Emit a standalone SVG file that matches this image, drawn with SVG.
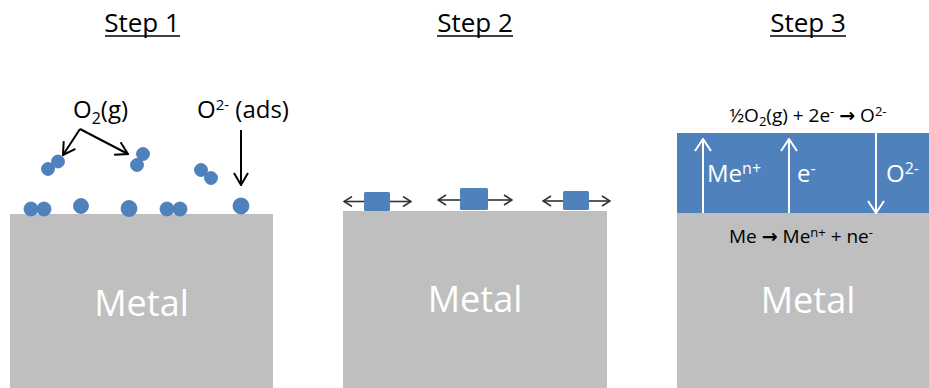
<svg xmlns="http://www.w3.org/2000/svg" width="929" height="388" viewBox="0 0 929 388">
  <style>
    .metal { fill: #bfbfbf; }
    .oxide { fill: #4f81bd; }
    .atom { fill: #4f81bd; stroke: #4677b3; stroke-width: 0.8; }
    .title { font-family: "Open Sans", "Liberation Sans", sans-serif; font-size: 26px; fill: #000; text-anchor: middle; }
    .uline { stroke: #000; stroke-width: 1.6; }
    .label { font-family: "Open Sans", "Liberation Sans", sans-serif; font-size: 24px; fill: #000; }
    .big { font-family: "Open Sans", "Liberation Sans", sans-serif; font-size: 36px; fill: #fff; text-anchor: middle; }
    .eq { font-family: "Open Sans", "Liberation Sans", sans-serif; font-size: 19px; fill: #000; text-anchor: middle; }
    .arrowglyph { font-family: "DejaVu Sans", sans-serif; font-weight: bold; }
    .inlayer { font-family: "Open Sans", "Liberation Sans", sans-serif; font-size: 24px; fill: #fff; }
    .blk { stroke: #000; stroke-width: 2; fill: none; }
    .grey { stroke: #333; stroke-width: 1.6; fill: none; }
    .wht { stroke: #fff; stroke-width: 2; fill: none; }
  </style>
  <defs>
    <marker id="headBlack" viewBox="0 0 14 16" refX="13" refY="8" markerWidth="14" markerHeight="16" markerUnits="userSpaceOnUse" orient="auto">
      <path d="M1,1 L13,8 L1,15" stroke="#000" stroke-width="2" fill="none"/>
    </marker>
    <marker id="headGrey" viewBox="0 0 10 12" refX="9" refY="6" markerWidth="10" markerHeight="12" markerUnits="userSpaceOnUse" orient="auto">
      <path d="M1,1 L9,6 L1,11" stroke="#333" stroke-width="1.6" fill="none"/>
    </marker>
    <marker id="headWhite" viewBox="0 0 14 18" refX="13" refY="9" markerWidth="14" markerHeight="18" markerUnits="userSpaceOnUse" orient="auto">
      <path d="M1,1 L13,9 L1,17" stroke="#fff" stroke-width="2" fill="none"/>
    </marker>
  </defs>

  <!-- step headings -->
  <g id="title-step1">
    <text class="title" x="142" y="32">Step 1</text>
    <line class="uline" x1="105" y1="36" x2="180" y2="36"/>
  </g>
  <g id="title-step2">
    <text class="title" x="475" y="32">Step 2</text>
    <line class="uline" x1="437" y1="36" x2="513" y2="36"/>
  </g>
  <g id="title-step3">
    <text class="title" x="808" y="32">Step 3</text>
    <line class="uline" x1="770" y1="36" x2="846" y2="36"/>
  </g>

  <!-- step 1: adsorption of oxygen -->
  <g id="metal1">
    <rect class="metal" x="10" y="214" width="263" height="176"/>
    <text class="big" x="141.5" y="316">Metal</text>
  </g>
  <g id="o2-gas-label">
    <text class="label" x="73" y="118">O<tspan font-size="16" dy="6">2</tspan><tspan dy="-6">(g)</tspan></text>
  </g>
  <g id="o2-ads-label">
    <text class="label" x="197" y="118" font-size="23">O<tspan font-size="15" dy="-8">2-</tspan><tspan dy="8"> (ads)</tspan></text>
  </g>
  <g id="molecules-gas">
    <circle class="atom" cx="48" cy="169" r="6.5"/>
    <circle class="atom" cx="58" cy="161.5" r="6.5"/>
    <circle class="atom" cx="143" cy="154" r="6.5"/>
    <circle class="atom" cx="137" cy="165" r="6.5"/>
    <circle class="atom" cx="201" cy="170" r="6.5"/>
    <circle class="atom" cx="211" cy="178" r="6.5"/>
  </g>
  <g id="atoms-surface">
    <circle class="atom" cx="31" cy="209" r="7"/>
    <circle class="atom" cx="44" cy="209" r="7"/>
    <circle class="atom" cx="81" cy="206" r="7.5"/>
    <circle class="atom" cx="129" cy="208.5" r="8"/>
    <circle class="atom" cx="167" cy="209" r="7"/>
    <circle class="atom" cx="180" cy="209" r="7"/>
    <circle class="atom" cx="241" cy="206" r="8"/>
  </g>

  <!-- step 2: oxide islands spreading -->
  <g id="metal2">
    <rect class="metal" x="343" y="211" width="264" height="179"/>
    <text class="big" x="475" y="312">Metal</text>
  </g>
  <g id="island1"><rect class="oxide" x="364" y="192" width="26" height="19" rx="1.5"/></g>
  <g id="island2"><rect class="oxide" x="460" y="188" width="28" height="22" rx="1.5"/></g>
  <g id="island3"><rect class="oxide" x="563" y="191" width="26" height="19" rx="1.5"/></g>

  <!-- step 3: oxide layer growth -->
  <g id="metal3">
    <rect class="metal" x="677" y="213" width="254" height="177"/>
    <text class="big" x="808" y="313">Metal</text>
    <text class="eq" x="801" y="243">Me <tspan class="arrowglyph">→</tspan> Me<tspan font-size="13" dy="-6">n+</tspan><tspan dy="6"> + ne</tspan><tspan font-size="13" dy="-6">-</tspan></text>
  </g>
  <g id="oxide-layer">
    <rect class="oxide" x="677" y="133" width="254" height="80"/>
    <text class="inlayer" x="707" y="182">Me<tspan font-size="16" dy="-8">n+</tspan></text>
    <text class="inlayer" x="797" y="182">e<tspan font-size="16" dy="-8">-</tspan></text>
    <text class="inlayer" x="886" y="182">O<tspan font-size="16" dy="-8">2-</tspan></text>
  </g>
  <g id="surface-reaction">
    <text class="eq" x="808" y="122">½O<tspan font-size="13" dy="4">2</tspan><tspan dy="-4">(g) + 2e</tspan><tspan font-size="13" dy="-6">-</tspan><tspan dy="6"> </tspan><tspan class="arrowglyph">→</tspan> O<tspan font-size="13" dy="-6">2-</tspan></text>
  </g>

  <!-- connectors -->
  <g id="connectors">
    <path class="blk" d="M80,129 L63,155" marker-end="url(#headBlack)"/>
    <path class="blk" d="M80,129 L128,154" marker-end="url(#headBlack)"/>
    <path class="blk" d="M241,130 L241,185" marker-end="url(#headBlack)"/>

    <path class="grey" d="M364,201.5 L344,201.5" marker-end="url(#headGrey)"/>
    <path class="grey" d="M390,201.5 L411,201.5" marker-end="url(#headGrey)"/>
    <path class="grey" d="M460,200 L438,200" marker-end="url(#headGrey)"/>
    <path class="grey" d="M488,200 L512,200" marker-end="url(#headGrey)"/>
    <path class="grey" d="M563,201 L543,201" marker-end="url(#headGrey)"/>
    <path class="grey" d="M589,201 L610,201" marker-end="url(#headGrey)"/>

    <path class="wht" d="M703,213 L703,139" marker-end="url(#headWhite)"/>
    <path class="wht" d="M789,213 L789,139" marker-end="url(#headWhite)"/>
    <path class="wht" d="M876,133 L876,213" marker-end="url(#headWhite)"/>
  </g>
</svg>
